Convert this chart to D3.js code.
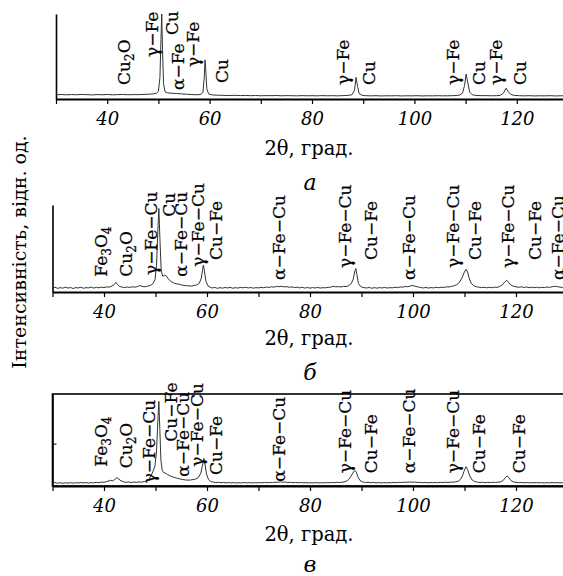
<!DOCTYPE html>
<html>
<head>
<meta charset="utf-8">
<script src="https://cdn.jsdelivr.net/npm/d3@7"></script>
<style>
    body { margin: 0; background: #fff; }
    svg { display: block; font-family: 'DejaVu Serif', serif; }
</style>
</head>
<body>
<div id="chart"></div>
<script>
// 2θ axis ticks (every 10, labels every 20)
const xTicks = [30, 40, 50, 60, 70, 80, 90, 100, 110, 120, 130];
const xLabels = [40, 60, 80, 100, 120];

// Pattern a: [2θ, intensity]
const scanA = [
    [30, 5.0], [31, 5.3], [32, 4.9], [33, 5.2], [34, 5.0], [35, 5.4], [36, 5.1], [37, 4.8],
    [38, 5.2], [39, 5.0], [40, 5.3], [41, 4.9], [42, 5.1], [43, 5.4], [44, 5.0], [45, 5.2],
    [46, 5.1], [47, 5.4], [48, 5.6], [49, 6.0], [49.6, 6.8], [50.0, 9], [50.3, 25], [50.5, 70],
    [50.65, 100], [50.8, 60], [51.0, 18], [51.3, 8.5], [51.8, 7.2], [52.5, 6.8], [53.5, 6.5],
    [54.5, 6.0], [55.5, 5.6], [56.5, 5.2], [57.5, 5.0], [58.3, 5.3], [58.7, 8], [58.95, 25],
    [59.1, 46], [59.25, 35], [59.45, 12], [59.8, 6], [60.5, 4.8], [61.5, 4.5], [62.5, 4.3],
    [64, 4.1], [65, 4.3], [66, 4.0], [67, 4.2], [68, 3.9], [69, 4.1], [70, 3.8], [71, 4.0],
    [72, 3.9], [73, 4.1], [74, 3.8], [75, 4.0], [76, 3.9], [77, 3.7], [78, 4.0], [79, 3.8],
    [80, 3.9], [81, 3.7], [82, 4.0], [83, 3.8], [84, 3.9], [85, 3.7], [86, 4.0], [87, 4.2],
    [87.8, 5], [88.3, 10], [88.6, 25.5], [88.9, 15], [89.2, 6.5], [89.7, 4.5], [90.5, 3.9],
    [91.5, 3.7], [92.5, 3.9], [93.5, 3.6], [94.5, 3.8], [95.5, 3.7], [96.5, 3.9], [97.5, 3.6],
    [98.5, 3.8], [99.5, 3.7], [100.5, 3.9], [101.5, 3.6], [102.5, 3.8], [103.5, 3.7], [104.5, 3.9],
    [105.5, 3.7], [106.5, 3.8], [107.5, 3.9], [108.3, 4.2], [108.8, 4.5], [109.4, 7], [109.8, 16],
    [110.1, 29.4], [110.4, 20], [110.8, 8], [111.3, 5], [112, 4.2], [113, 3.9], [114, 4.0],
    [115, 3.8], [116, 3.9], [116.8, 4.3], [117.4, 7], [117.9, 12.6], [118.3, 9], [118.8, 5.5],
    [119.5, 4.2], [120.5, 3.9], [121.5, 3.7], [122.5, 3.9], [123.5, 3.6], [124.5, 3.8],
    [125.5, 3.7], [126.5, 3.9], [127.5, 3.6], [128.5, 3.8], [130, 3.7]
];

// Pattern б
const scanB = [
    [30, 4.6], [30.5, 5.4], [31, 4.2], [31.5, 5.0], [32, 4.4], [32.5, 5.6], [33, 4.5], [33.5, 5.2],
    [34, 4.0], [34.5, 5.1], [35, 4.6], [35.5, 5.5], [36, 4.3], [36.5, 5.0], [37, 4.7], [37.5, 5.8],
    [38, 4.5], [38.5, 5.3], [39, 4.8], [39.5, 5.6], [40, 5.0], [40.5, 5.9], [41, 5.6], [41.5, 6.8],
    [42, 8.5], [42.3, 11], [42.6, 9], [43, 6.5], [43.5, 5.6], [44, 5.0], [44.5, 5.8], [45, 5.2],
    [45.5, 6.0], [46, 5.5], [46.5, 6.3], [47, 7.5], [47.4, 6.4], [48, 6.0], [48.5, 6.8], [49, 7.5],
    [49.5, 9.5], [49.9, 14], [50.2, 30], [50.45, 70], [50.65, 96], [50.85, 62], [51.1, 25],
    [51.4, 18], [51.8, 19.5], [52.1, 18.5], [52.5, 15], [53, 12], [53.5, 10.5], [54, 9.5],
    [54.5, 9], [55, 8.2], [55.5, 7.6], [56, 7.2], [56.5, 7], [57, 6.8], [57.5, 7.5], [58, 8.2],
    [58.5, 10], [58.9, 16], [59.15, 26], [59.3, 31], [59.5, 24], [59.8, 12], [60.2, 7], [60.6, 5.5],
    [61, 4.6], [61.5, 5.3], [62, 4.2], [62.5, 5.0], [63, 4.4], [63.5, 5.2], [64, 4.6], [64.5, 5.4],
    [65, 4.3], [65.5, 5.0], [66, 4.5], [66.5, 5.3], [67, 4.8], [67.5, 5.5], [68, 4.6], [68.5, 5.2],
    [69, 4.4], [69.5, 5.0], [70, 4.7], [70.5, 5.3], [71, 4.9], [71.5, 5.7], [72, 5.2], [72.5, 6.0],
    [73, 5.6], [73.5, 6.4], [74, 6.1], [74.5, 6.6], [75, 5.8], [75.5, 6.2], [76, 5.4], [76.5, 5.9],
    [77, 5.0], [77.5, 5.6], [78, 4.7], [78.5, 5.4], [79, 4.5], [79.5, 5.2], [80, 4.4], [80.5, 5.1],
    [81, 4.6], [81.5, 5.3], [82, 4.5], [82.5, 5.0], [83, 4.8], [83.5, 5.4], [84, 5.5], [84.5, 6.6],
    [85, 5.9], [85.5, 6.2], [86, 5.8], [86.5, 6.4], [87, 6.3], [87.5, 7.2], [88, 9.5], [88.4, 15],
    [88.7, 24], [88.9, 27], [89.1, 20], [89.4, 10], [89.8, 6.5], [90.3, 5.2], [91, 4.6], [91.5, 5.2],
    [92, 4.3], [92.5, 5.0], [93, 4.4], [93.5, 5.1], [94, 4.6], [94.5, 5.3], [95, 4.5], [95.5, 5.0],
    [96, 4.8], [96.5, 5.5], [97, 5.0], [97.5, 5.8], [98, 5.6], [98.5, 6.3], [99, 6.0], [99.5, 7.0],
    [100, 7.4], [100.4, 6.6], [101, 5.8], [101.5, 5.2], [102, 4.6], [102.5, 5.3], [103, 4.5],
    [103.5, 5.1], [104, 4.7], [104.5, 5.4], [105, 4.9], [105.5, 5.5], [106, 5.2], [106.5, 5.9],
    [107, 5.8], [107.5, 6.5], [108, 7.2], [108.5, 8.5], [109, 11], [109.5, 16], [109.9, 22],
    [110.3, 26], [110.6, 23], [110.9, 16], [111.3, 10], [111.8, 7.2], [112.3, 6.0], [112.8, 5.6],
    [113.3, 5.0], [113.8, 5.5], [114.3, 4.8], [114.8, 5.4], [115.3, 4.9], [115.8, 5.6], [116.3, 5.3],
    [116.8, 6.2], [117.3, 8], [117.8, 11.5], [118.2, 13.5], [118.5, 11.5], [118.9, 8.5], [119.4, 6.8],
    [120, 6.0], [120.5, 5.4], [121, 6.0], [121.5, 5.2], [122, 5.8], [122.5, 5.0], [123, 5.6],
    [123.5, 4.9], [124, 5.5], [124.5, 4.8], [125, 5.4], [125.5, 5.0], [126, 5.7], [126.5, 5.3],
    [127, 6.0], [127.5, 6.6], [128, 6.2], [128.5, 5.6], [129, 5.2], [129.5, 5.7], [130, 5.0]
];

// Pattern в
const scanC = [
    [30, 3.2], [30.5, 3.8], [31, 3.0], [31.5, 3.6], [32, 2.9], [32.5, 3.5], [33, 3.1], [33.5, 3.7],
    [34, 3.0], [34.5, 3.6], [35, 3.2], [35.5, 3.9], [36, 3.3], [36.5, 3.8], [37, 3.1], [37.5, 3.7],
    [38, 3.4], [38.5, 4.0], [39, 3.6], [39.5, 4.2], [40, 4.0], [40.5, 4.8], [41, 5.6], [41.3, 6.2],
    [41.7, 5.5], [42.1, 7.2], [42.5, 9], [42.9, 7.4], [43.3, 5.6], [43.8, 4.6], [44.3, 4.0],
    [44.8, 4.4], [45.3, 3.8], [45.8, 4.3], [46.3, 3.9], [46.8, 4.5], [47.3, 4.2], [47.8, 4.8],
    [48.3, 5.5], [48.8, 8], [49.2, 12], [49.6, 17], [49.9, 22], [50.2, 38], [50.45, 70],
    [50.65, 92], [50.85, 60], [51.05, 28], [51.3, 17], [51.6, 14.5], [51.9, 14], [52.3, 12.5],
    [52.8, 11], [53.3, 10], [53.8, 9], [54.3, 8.3], [54.8, 7.6], [55.3, 7.0], [55.8, 6.6],
    [56.3, 6.4], [56.8, 6.5], [57.3, 7.0], [57.8, 7.5], [58.3, 9], [58.8, 14], [59.1, 22],
    [59.4, 30], [59.6, 24], [59.9, 13], [60.3, 7], [60.7, 5], [61.2, 4.2], [61.7, 3.7], [62.2, 4.1],
    [62.7, 3.5], [63.2, 3.9], [63.7, 3.4], [64.2, 3.8], [64.7, 3.3], [65.2, 3.7], [65.7, 3.2],
    [66.2, 3.6], [66.7, 3.3], [67.2, 3.8], [67.7, 3.4], [68.2, 3.7], [68.7, 3.3], [69.2, 3.6],
    [69.7, 3.4], [70.2, 3.8], [70.7, 3.5], [71.2, 3.9], [71.7, 3.6], [72.2, 3.8], [72.7, 3.7],
    [73.2, 4.1], [73.7, 4.0], [74.2, 4.4], [74.7, 4.1], [75.2, 4.3], [75.7, 3.8], [76.2, 4.0],
    [76.7, 3.6], [77.2, 3.9], [77.7, 3.5], [78.2, 3.8], [78.7, 3.4], [79.2, 3.7], [79.7, 3.3],
    [80.2, 3.6], [80.7, 3.4], [81.2, 3.7], [81.7, 3.3], [82.2, 3.6], [82.7, 3.4], [83.2, 3.8],
    [83.7, 3.5], [84.2, 3.9], [84.7, 3.6], [85.2, 4.0], [85.7, 3.8], [86.2, 4.1], [86.6, 4.4],
    [87, 5], [87.5, 7], [87.9, 10], [88.3, 14], [88.7, 17], [89.0, 15], [89.3, 10], [89.7, 6],
    [90.2, 4.5], [90.8, 3.8], [91.3, 4.1], [91.8, 3.5], [92.3, 3.9], [92.8, 3.4], [93.3, 3.8],
    [93.8, 3.3], [94.3, 3.7], [94.8, 3.4], [95.3, 3.8], [95.8, 3.5], [96.3, 3.9], [96.8, 3.6],
    [97.3, 4.0], [97.8, 3.8], [98.3, 4.2], [98.8, 4.0], [99.3, 4.4], [99.8, 4.1], [100.3, 4.3],
    [100.8, 3.8], [101.3, 4.0], [101.8, 3.6], [102.3, 3.9], [102.8, 3.5], [103.3, 3.8], [103.8, 3.5],
    [104.3, 3.9], [104.8, 3.6], [105.3, 4.0], [105.8, 3.7], [106.3, 4.1], [106.8, 3.9], [107.3, 4.2],
    [107.8, 4.1], [108.3, 4.6], [108.8, 5.2], [109.2, 7], [109.6, 11], [109.9, 16], [110.3, 21],
    [110.6, 18], [111, 11], [111.5, 6.5], [112, 4.8], [112.5, 4.2], [113, 3.8], [113.5, 4.1],
    [114, 3.6], [114.5, 4.0], [115, 3.7], [115.5, 4.1], [116, 3.8], [116.5, 4.2], [117, 4.4],
    [117.5, 6], [118, 9.5], [118.3, 11], [118.6, 9], [119, 6], [119.5, 4.5], [120, 4.0],
    [120.5, 3.6], [121, 3.9], [121.5, 3.5], [122, 3.8], [122.5, 3.4], [123, 3.7], [123.5, 3.5],
    [124, 3.8], [124.5, 3.4], [125, 3.7], [125.5, 3.3], [126, 3.6], [126.5, 3.4], [127, 3.8],
    [127.5, 3.5], [128, 3.7], [128.5, 3.4], [129, 3.6], [129.5, 3.3], [130, 3.5]
];

// Phase labels: [text, 2θ of label, intensity at label foot]
const peaksA = [
    ['Cu2O', 43.3, 16.5], ['γ−Fe', 48.75, 49.4], ['Cu', 52.56, 75.3], ['α−Fe', 53.83, 10.6],
    ['γ−Fe', 56.66, 37.6], ['Cu', 62.32, 18.8], ['γ−Fe', 85.96, 16.5], ['Cu', 91.13, 16.5],
    ['γ−Fe', 107.44, 16.5], ['Cu', 112.62, 16.5], ['γ−Fe', 115.94, 16.5], ['Cu', 120.63, 16.5]
];
const peaksB = [
    ['Fe3O4', 39.42, 17.6], ['Cu2O', 44.27, 17.6], ['γ−Fe−Cu', 49.13, 19.5], ['Cu', 52.62, 86.6],
    ['α−Fe−Cu', 54.95, 17.6], ['γ−Fe−Cu', 58.16, 29.1], ['Cu−Fe', 61.75, 36.8],
    ['α−Fe−Cu', 73.98, 13.8], ['γ−Fe−Cu', 86.8, 27.6], ['Cu−Fe', 91.84, 36.8],
    ['α−Fe−Cu', 99.22, 13.8], ['γ−Fe−Cu', 107.77, 27.6], ['Cu−Fe', 112.04, 36.8],
    ['γ−Fe−Cu', 118.45, 27.6], ['Cu−Fe', 123.69, 36.8], ['α−Fe−Cu', 128.16, 13.8]
];
const peaksC = [
    ['Fe3O4', 39.42, 21], ['Cu2O', 44.27, 19.2], ['γ−Fe−Cu', 48.74, 2.9], ['Cu−Fe', 53.01, 48.2],
    ['α−Fe−Cu', 55.24, 10.1], ['γ−Fe−Cu', 57.96, 21], ['Cu−Fe', 61.65, 12],
    ['α−Fe−Cu', 73.98, 4.7], ['γ−Fe−Cu', 86.8, 13.8], ['Cu−Fe', 91.75, 13.8],
    ['α−Fe−Cu', 99.13, 13.8], ['γ−Fe−Cu', 107.77, 13.8], ['Cu−Fe', 112.72, 13.8],
    ['Cu−Fe', 120.49, 13.8]
];

const xTitle = '2θ, град.';
const yTitle = 'Інтенсивність, відн. од.';
const panelTags = ['a', 'б', 'в'];

const width = 563;
const height = 576;

const svg = d3.select('#chart')
    .append('svg')
    .attr('width', width)
    .attr('height', height);

svg.append('rect').attr('width', width).attr('height', height).attr('fill', '#fff');

// Write a formula with digits as subscripts
function chemText(sel, str) {
    const parts = str.match(/\d+|\D+/g);
    let shifted = false;
    parts.forEach(p => {
        const isSub = /\d/.test(p);
        const t = sel.append('tspan').text(p);
        if (isSub) {
            t.attr('font-size', 12).attr('dy', 4);
            shifted = true;
        } else if (shifted) {
            t.attr('dy', -4);
            shifted = false;
        }
    });
}

function drawPanel(cfg) {
    const x = d3.scaleLinear().domain([30, 130]).range([cfg.left, cfg.right]);
    const y = d3.scaleLinear().domain([0, 100]).range([cfg.bottom, cfg.top]);
    const g = svg.append('g');

    if (cfg.frame) {
        g.append('rect')
            .attr('x', x(30))
            .attr('y', y(100))
            .attr('width', x(130) - x(30))
            .attr('height', y(0) - y(100))
            .attr('fill', 'none')
            .attr('stroke', '#000')
            .attr('stroke-width', 1.6);
    }

    // Y axis (no labels)
    const yAxis = d3.axisLeft(y).tickValues(cfg.yTicks).tickSizeInner(-4).tickSizeOuter(0).tickFormat('');
    g.append('g')
        .attr('transform', `translate(${x(30)},0)`)
        .call(yAxis)
        .call(s => s.select('.domain').attr('stroke-width', 1.6))
        .call(s => s.selectAll('.tick line').attr('stroke-width', 1));

    // X axis
    const xAxis = d3.axisBottom(x)
        .tickValues(xTicks)
        .tickSizeInner(5)
        .tickSizeOuter(0)
        .tickPadding(8)
        .tickFormat(d => xLabels.includes(d) ? d : '');
    g.append('g')
        .attr('transform', `translate(0,${y(0)})`)
        .call(xAxis)
        .call(s => s.select('.domain').attr('stroke-width', 1.8))
        .call(s => s.selectAll('.tick line').attr('stroke-width', 1.2))
        .call(s => s.selectAll('.tick text')
            .attr('font-family', 'DejaVu Serif')
            .attr('font-style', 'italic')
            .attr('font-size', 18)
            .attr('fill', '#000'));

    // Pattern curve
    const line = d3.line()
        .x(d => x(d[0]))
        .y(d => y(d[1]));
    g.append('path')
        .datum(cfg.scan)
        .attr('d', line)
        .attr('fill', 'none')
        .attr('stroke', '#333')
        .attr('stroke-width', 1);

    // Phase labels, rotated
    cfg.peaks.forEach(([label, tt, foot]) => {
        const t = g.append('text')
            .attr('transform', `translate(${x(tt)},${y(foot)}) rotate(-90)`)
            .attr('dy', '0.36em')
            .attr('font-size', 17)
            .attr('fill', '#000')
            .attr('stroke', '#000')
            .attr('stroke-width', 0.25);
        chemText(t, label);
    });

    // Axis title and panel tag
    g.append('text')
        .attr('x', 309)
        .attr('y', cfg.titleY)
        .attr('text-anchor', 'middle')
        .attr('font-size', 19.5)
        .attr('fill', '#000')
        .text(xTitle);
    g.append('text')
        .attr('x', 310)
        .attr('y', cfg.tagY)
        .attr('text-anchor', 'middle')
        .attr('font-size', 22)
        .attr('font-style', 'italic')
        .attr('fill', '#000')
        .text(cfg.tag);
}

drawPanel({ scan: scanA, peaks: peaksA, left: 56, right: 568, top: 14, bottom: 99, yTicks: [], titleY: 155, tagY: 190, tag: panelTags[0] });
drawPanel({ scan: scanB, peaks: peaksB, left: 52.5, right: 567.5, top: 205, bottom: 292, yTicks: [], titleY: 345, tagY: 380, tag: panelTags[1] });
drawPanel({ scan: scanC, peaks: peaksC, left: 52.5, right: 567.5, top: 394, bottom: 486, yTicks: [46], titleY: 541, tagY: 572, tag: panelTags[2], frame: true });

// Shared y title
svg.append('text')
    .attr('transform', 'translate(26,252) rotate(-90)')
    .attr('text-anchor', 'middle')
    .attr('font-size', 19)
    .attr('fill', '#000')
    .text(yTitle);
</script>
</body>
</html>
